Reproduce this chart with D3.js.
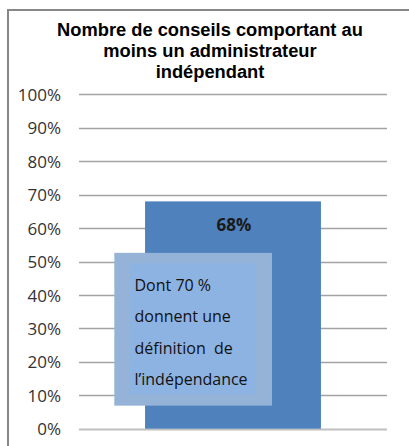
<!DOCTYPE html>
<html>
<head>
<meta charset="utf-8">
<script src="https://cdn.jsdelivr.net/npm/d3@7"></script>
<style>
  body { margin: 0; background: #fff; }
  svg { display: block; }
</style>
</head>
<body>
<svg width="409" height="446"></svg>
<script>
// chart data
var titleLines = ["Nombre de conseils comportant au", "moins un administrateur", "indépendant"];
var categories = ["Conseils"];
var values = [68];
var valueLabels = ["68%"];
var tickValues = [0, 10, 20, 30, 40, 50, 60, 70, 80, 90, 100];
var tickLabels = ["0%", "10%", "20%", "30%", "40%", "50%", "60%", "70%", "80%", "90%", "100%"];
var noteLines = ["Dont 70 %", "donnent une", "définition  de", "l\u2019indépendance"];

var svg = d3.select("svg");

// outer frame (cut by the picture on the right and bottom)
svg.append("rect")
    .attr("x", 8).attr("y", 10)
    .attr("width", 420).attr("height", 460)
    .attr("fill", "none")
    .attr("stroke", "#878787")
    .attr("stroke-width", 2);

// title
svg.append("text")
    .attr("x", 210)
    .attr("y", 36)
    .attr("text-anchor", "middle")
    .style("font-family", "'Liberation Sans', Arial, sans-serif")
    .style("font-weight", "bold")
    .style("font-size", "18.3px")
    .attr("fill", "#000")
  .selectAll("tspan")
  .data(titleLines)
  .enter().append("tspan")
    .attr("x", 210)
    .attr("dy", function (d, i) { return i ? 21 : 0; })
    .text(function (d) { return d; });

// scales
var x = d3.scaleBand().domain(categories).range([79, 387]).padding(0.273),
    y = d3.scaleLinear().domain([0, 100]).range([428.7, 94.4]);

// gridlines
svg.append("g")
  .selectAll("line")
  .data(tickValues)
  .enter().append("line")
    .attr("x1", 79).attr("x2", 387)
    .attr("y1", function (d) { return Math.round(y(d)) + 0.5; })
    .attr("y2", function (d) { return Math.round(y(d)) + 0.5; })
    .attr("stroke", function (d) { return d === 0 ? "#bfbfbf" : "#a3a3a3"; })
    .attr("stroke-width", function (d) { return d === 0 ? 2 : 1.3; });

// y axis labels
var yAxis = svg.append("g")
    .attr("transform", "translate(61,0)")
    .call(d3.axisLeft(y).tickValues(tickValues)
        .tickFormat(function (d, i) { return tickLabels[i]; })
        .tickSize(0).tickPadding(0));
yAxis.select(".domain").remove();
yAxis.selectAll("text")
    .style("font-family", "'Open Sans', sans-serif")
    .style("font-size", "17px")
    .attr("fill", "#333")
    .attr("dy", "0.36em");

// bar
svg.append("g")
  .selectAll("rect")
  .data(values)
  .enter().append("rect")
    .attr("x", function (d, i) { return x(categories[i]); })
    .attr("width", x.bandwidth())
    .attr("y", function (d) { return y(d); })
    .attr("height", function (d) { return y(0) - y(d); })
    .attr("fill", "#4f81bd");

// value label
svg.append("g")
  .selectAll("text")
  .data(values)
  .enter().append("text")
    .attr("x", function (d, i) { return x(categories[i]) + x.bandwidth() / 2 + 1; })
    .attr("y", function (d) { return y(d) + 29.5; })
    .attr("text-anchor", "middle")
    .style("font-family", "'Open Sans', sans-serif")
    .style("font-weight", "bold")
    .style("font-size", "17px")
    .attr("fill", "#1a1a1a")
    .text(function (d, i) { return valueLabels[i]; });

// annotation box
var note = svg.append("g");
note.append("rect")
    .attr("x", 114.3).attr("y", y(52.6))
    .attr("width", 157.7).attr("height", y(6.9) - y(52.6))
    .attr("fill", "#95b3d7");
note.append("rect")
    .attr("x", 130).attr("y", y(49.5))
    .attr("width", 126).attr("height", y(10.2) - y(49.5))
    .attr("fill", "#8db3e2");
note.append("text")
    .style("font-family", "'Open Sans', sans-serif")
    .style("font-size", "16px")
    .attr("fill", "#111")
  .selectAll("tspan")
  .data(noteLines)
  .enter().append("tspan")
    .attr("x", 134.5)
    .attr("y", function (d, i) { return 290.7 + i * 31.5; })
    .attr("xml:space", "preserve")
    .style("white-space", "pre")
    .text(function (d) { return d; });
</script>
</body>
</html>
